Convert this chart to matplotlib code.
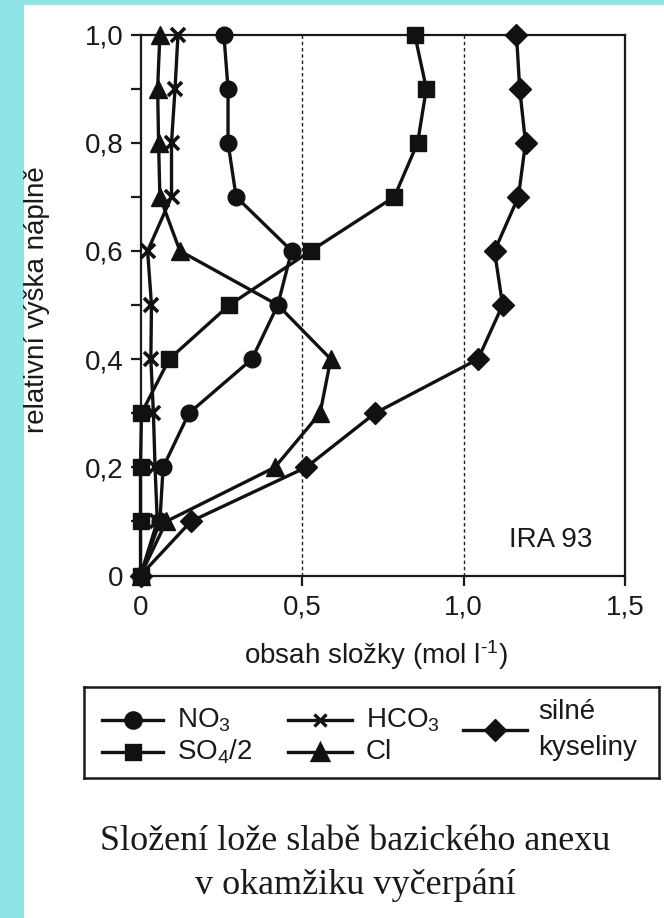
import matplotlib
matplotlib.use("Agg")
import matplotlib.pyplot as plt
from matplotlib.patches import Rectangle

# Relative bed height (0 = bottom, 1 = top)
heights = [0.0, 0.1, 0.2, 0.3, 0.4, 0.5, 0.6, 0.7, 0.8, 0.9, 1.0]

# Content of each component along the bed (mol/l)
no3 = [0.0, 0.06, 0.07, 0.15, 0.345, 0.425, 0.468, 0.296, 0.271, 0.271, 0.258]
so4_half = [0.0, 0.0, 0.0, 0.003, 0.089, 0.275, 0.527, 0.786, 0.858, 0.885, 0.849]
hco3 = [0.0, 0.052, 0.045, 0.04, 0.032, 0.034, 0.022, 0.096, 0.096, 0.107, 0.116]
cl = [0.0, 0.08, 0.416, 0.556, 0.589, 0.425, 0.122, 0.06, 0.056, 0.053, 0.06]
strong_acids = [0.0, 0.156, 0.513, 0.726, 1.045, 1.121, 1.096, 1.17, 1.192, 1.174, 1.164]

x_ticks = [0.0, 0.5, 1.0, 1.5]
x_ticklabels = ["0", "0,5", "1,0", "1,5"]
y_ticks = [0.0, 0.2, 0.4, 0.6, 0.8, 1.0]
y_ticklabels = ["0", "0,2", "0,4", "0,6", "0,8", "1,0"]
y_minor = [0.1, 0.3, 0.5, 0.7, 0.9]
guide_x = [0.5, 1.0]

SANS = ["Liberation Sans", "DejaVu Sans"]
SERIF = ["Liberation Serif", "DejaVu Serif"]
plt.rcParams["font.family"] = SANS
plt.rcParams["mathtext.default"] = "regular"

FS = 20
INK = "#1a1a1a"

W, H = 664, 918
fig = plt.figure(figsize=(W / 100, H / 100), dpi=100)
fig.patch.set_facecolor("#8fe4e8")
# white sheet behind everything
fig.patches.append(Rectangle((24 / W, 0), 1 - 24 / W, 1 - 5 / H,
                             transform=fig.transFigure, facecolor="white",
                             edgecolor="none", zorder=-5))

def fx(px):
    return px / W

def fy(py):
    return 1 - py / H

ax_l, ax_r, ax_t, ax_b = 140.5, 625, 34.5, 575.5
ax = fig.add_axes([fx(ax_l), fy(ax_b), fx(ax_r - ax_l), (ax_b - ax_t) / H])
ax.set_zorder(2)
ax.set_facecolor("white")
ax.set_xlim(0, 1.5)
ax.set_ylim(0, 1.0)
for s in ax.spines.values():
    s.set_linewidth(1.6)
    s.set_color(INK)

for gx in guide_x:
    ax.plot([gx, gx], [0, 1], color="#222222", lw=1.0, ls=(0, (2.5, 2)), zorder=1)

lw = 2.4
col = "#111111"
# the Cl vertex at 0.5 sits under the NO3 circle, so its triangle is not drawn
cl_marks = [i for i in range(len(heights)) if i != 5]
ax.plot(cl, heights, color=col, lw=lw, marker="^", ms=13, markevery=cl_marks,
        zorder=3, clip_on=False)
ax.plot(hco3, heights, color=col, lw=lw, marker="x", ms=10, mew=2.6, zorder=3, clip_on=False)
ax.plot(so4_half, heights, color=col, lw=lw, marker="s", ms=11, zorder=4, clip_on=False)
ax.plot(no3, heights, color=col, lw=lw, marker="o", ms=12, zorder=5, clip_on=False)
ax.plot(strong_acids, heights, color=col, lw=lw, marker="D", ms=11, zorder=4, clip_on=False)

ax.set_xticks(x_ticks)
ax.set_xticklabels(x_ticklabels)
ax.set_yticks(y_ticks)
ax.set_yticklabels(y_ticklabels)
ax.set_yticks(y_minor, minor=True)
ax.tick_params(axis="both", which="both", direction="out", length=7, width=1.6,
               labelsize=FS, colors=INK)
ax.tick_params(axis="y", pad=5)
ax.tick_params(axis="x", pad=7)

fig.text(fx(37), fy(300), "relativní výška náplně", rotation=90,
         ha="center", va="center", fontsize=FS, color=INK)
fig.text(fx(376), fy(655), "obsah složky (mol l$^{\u20101}$)",
         ha="center", va="center", fontsize=FS, color=INK)
ax.text(1.4, 0.065, "IRA 93", ha="right", va="center", fontsize=FS, color=INK)

# legend panel
lx0, lx1, ly0, ly1 = 84, 659, 687, 778
lg = fig.add_axes([fx(lx0), fy(ly1), fx(lx1 - lx0), (ly1 - ly0) / H])
lg.set_zorder(2)
lg.set_facecolor("white")
lg.set_xlim(lx0, lx1)
lg.set_ylim(ly1, ly0)
lg.set_xticks([])
lg.set_yticks([])
for s in lg.spines.values():
    s.set_linewidth(1.8)
    s.set_color(INK)

entries = [
    ("o", 11, 102, 163, 720, r"NO$_3$"),
    ("s", 10, 102, 163, 752, r"SO$_4$/2"),
    ("x", 9, 288, 352, 720, r"HCO$_3$"),
    ("^", 12, 288, 352, 752, "Cl"),
]
for mk, ms, a, b, yy, lab in entries:
    lg.plot([a, b], [yy, yy], color=col, lw=lw)
    lg.plot([(a + b) / 2], [yy], color=col, marker=mk, ms=ms, mew=2.4)
    lg.text(b + 14, yy, lab, ha="left", va="center", fontsize=FS, color=INK)
lg.plot([463, 527], [730, 730], color=col, lw=lw)
lg.plot([495], [730], color=col, marker="D", ms=11)
lg.text(538, 712, "silné", ha="left", va="center", fontsize=FS, color=INK)
lg.text(538, 748, "kyseliny", ha="left", va="center", fontsize=FS, color=INK)

fig.text(fx(355), fy(842), "Složení lože slabě bazického anexu",
         ha="center", va="center", fontsize=26, family=SERIF, color=INK)
fig.text(fx(355), fy(885), "v okamžiku vyčerpání",
         ha="center", va="center", fontsize=26, family=SERIF, color=INK)

fig.savefig("out.png", dpi=100, facecolor=fig.get_facecolor())
